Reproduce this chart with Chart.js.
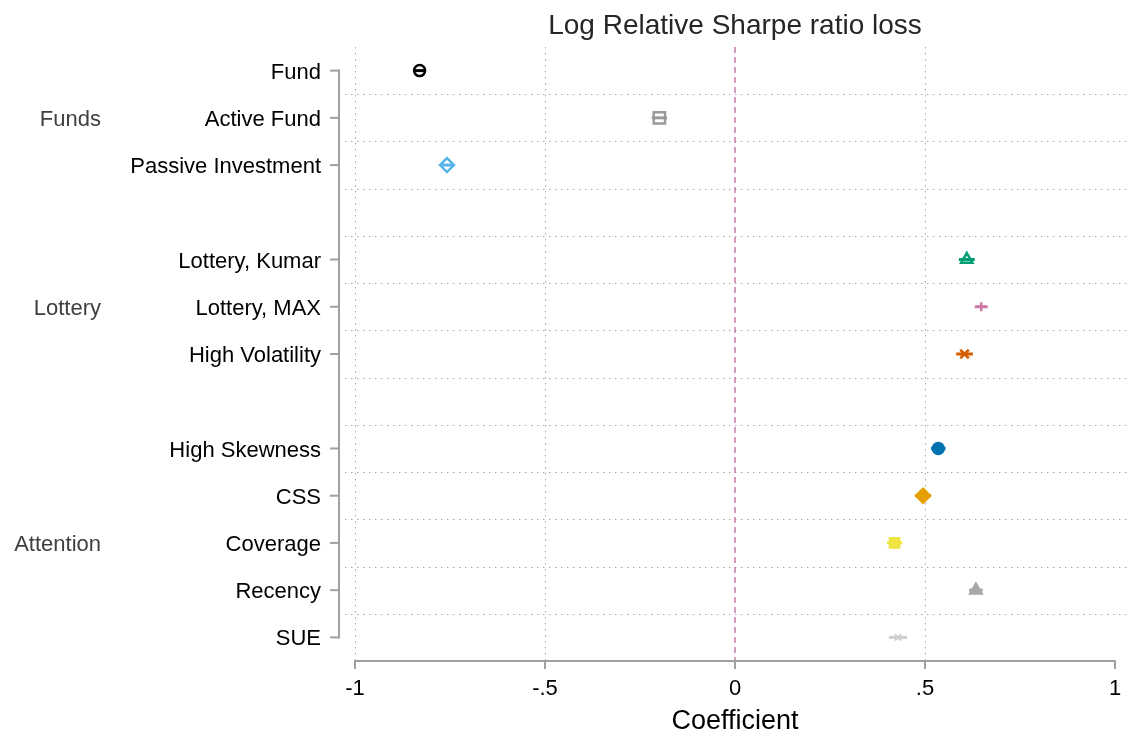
<!DOCTYPE html>
<html>
<head>
<meta charset="utf-8">
<script src="https://cdn.jsdelivr.net/npm/chart.js@4.4.1/dist/chart.umd.min.js"></script>
<style>
  html, body { margin: 0; padding: 0; background: #fff; }
  #wrap { width: 1130px; height: 738px; }
</style>
</head>
<body>
<div id="wrap"><canvas id="myChart" width="1130" height="738"></canvas></div>
<script>
// coefficient plot data
const rowLabels = ["Fund", "Active Fund", "Passive Investment", "", "Lottery, Kumar", "Lottery, MAX",
  "High Volatility", "", "High Skewness", "CSS", "Coverage", "Recency", "SUE"];
const rowPos = [0, 1, 2, 4, 5, 6, 8, 9, 10, 11, 12];
const coefs = [-0.830, -0.199, -0.758, 0.610, 0.648, 0.604, 0.535, 0.495, 0.420, 0.634, 0.429];
const ciLow = [-0.846, -0.219, -0.776, 0.589, 0.631, 0.582, 0.516, 0.474, 0.400, 0.616, 0.405];
const ciHigh = [-0.814, -0.179, -0.740, 0.631, 0.665, 0.626, 0.554, 0.516, 0.440, 0.652, 0.453];
const groupNames = ["Funds", "Lottery", "Attention"];
const groupPos = [1, 5, 10];
const xTicks = [-1, -0.5, 0, 0.5, 1];
const xTickLabels = ["-1", "-.5", "0", ".5", "1"];
const xGrid = [-1, -0.5, 0.5];

const colors = ["#000000", "#9a9a9a", "#56b4e9", "#009e73", "#cc79a7", "#d55e00",
  "#0072b2", "#e69f00", "#f0e442", "#a8a8a8", "#cfcfcf"];
const styles = ["circle", "rect", "rectRot", "triangle", "cross", "crossRot",
  "circle", "rectRot", "rect", "triangle", "crossRot"];
const hollow = [true, true, true, true, false, false, false, false, false, false, false];
const sizes = [5.5, 8, 7, 6.5, 4.5, 6, 5.5, 7, 6.5, 6.5, 4.5];

const FONT = '"Liberation Sans", Arial, sans-serif';

const decor = {
  id: "decor",
  beforeDatasetsDraw(chart) {
    const ctx = chart.ctx;
    const xs = chart.scales.x, ys = chart.scales.y;
    const top = chart.chartArea.top, bottom = chart.chartArea.bottom;
    ctx.save();
    // horizontal dotted separators
    ctx.strokeStyle = "#a8a8a8";
    ctx.lineWidth = 1;
    ctx.setLineDash([1.5, 4.5]);
    for (let k = 0; k < 12; k++) {
      const y = Math.round(ys.getPixelForValue(k + 0.5)) + 0.5;
      ctx.beginPath(); ctx.moveTo(345, y); ctx.lineTo(1130, y); ctx.stroke();
    }
    // vertical dotted grid
    xGrid.forEach(v => {
      const x = Math.round(xs.getPixelForValue(v)) + 0.5;
      ctx.beginPath(); ctx.moveTo(x, top); ctx.lineTo(x, bottom); ctx.stroke();
    });
    // zero line
    ctx.strokeStyle = "#cc79a7";
    ctx.lineWidth = 1.5;
    ctx.setLineDash([6, 4]);
    const x0 = xs.getPixelForValue(0);
    ctx.beginPath(); ctx.moveTo(x0, top); ctx.lineTo(x0, bottom); ctx.stroke();
    ctx.setLineDash([]);

    // confidence intervals
    ctx.lineWidth = 3;
    coefs.forEach((c, i) => {
      const y = ys.getPixelForValue(rowPos[i]);
      ctx.strokeStyle = colors[i];
      ctx.beginPath();
      ctx.moveTo(xs.getPixelForValue(ciLow[i]), y);
      ctx.lineTo(xs.getPixelForValue(ciHigh[i]), y);
      ctx.stroke();
    });

    // y axis
    ctx.strokeStyle = "#a0a0a0";
    ctx.lineWidth = 2;
    const yTop = ys.getPixelForValue(0), yBot = ys.getPixelForValue(12);
    ctx.beginPath(); ctx.moveTo(339, yTop - 1); ctx.lineTo(339, yBot + 1); ctx.stroke();
    ctx.fillStyle = "#000";
    ctx.font = "22px " + FONT;
    ctx.textAlign = "right";
    ctx.textBaseline = "middle";
    rowLabels.forEach((lab, k) => {
      if (!lab) return;
      const y = ys.getPixelForValue(k);
      ctx.beginPath(); ctx.moveTo(330, y); ctx.lineTo(339, y); ctx.stroke();
      ctx.fillText(lab, 321, y + 2);
    });
    // group labels
    ctx.fillStyle = "#404040";
    groupNames.forEach((g, i) => {
      ctx.fillText(g, 101, ys.getPixelForValue(groupPos[i]) + 2);
    });

    // x axis
    const xl = xs.getPixelForValue(-1), xr = xs.getPixelForValue(1);
    const ya = bottom;
    ctx.beginPath(); ctx.moveTo(xl - 1, ya); ctx.lineTo(xr + 1, ya); ctx.stroke();
    ctx.fillStyle = "#000";
    ctx.textAlign = "center";
    ctx.textBaseline = "middle";
    xTicks.forEach((v, i) => {
      const x = xs.getPixelForValue(v);
      ctx.beginPath(); ctx.moveTo(x, ya); ctx.lineTo(x, ya + 8); ctx.stroke();
      ctx.fillText(xTickLabels[i], x, 689);
    });
    ctx.font = "27px " + FONT;
    ctx.fillText("Coefficient", (xl + xr) / 2, 722);
    ctx.font = "28px " + FONT;
    ctx.fillStyle = "#262626";
    ctx.fillText("Log Relative Sharpe ratio loss", (xl + xr) / 2, 26);
    ctx.restore();
  }
};

const pts = coefs.map((c, i) => ({ x: c, y: rowPos[i] }));

const ctx = document.getElementById("myChart").getContext("2d");
const myChart = new Chart(ctx, {
  type: "scatter",
  data: {
    datasets: [{
      data: pts,
      pointStyle: styles,
      pointRadius: sizes,
      pointBorderWidth: styles.map((s, i) => (i === 10 ? 2 : 2.5)),
      borderColor: colors,
      backgroundColor: colors.map((c, i) => (hollow[i] ? "rgba(0,0,0,0)" : c)),
      pointBackgroundColor: colors.map((c, i) => (hollow[i] ? "rgba(0,0,0,0)" : c)),
      pointBorderColor: colors
    }]
  },
  options: {
    responsive: false,
    animation: false,
    layout: { padding: { left: 355, right: 15, top: 47, bottom: 77 } },
    plugins: { legend: { display: false }, tooltip: { enabled: false }, title: { display: false } },
    scales: {
      x: { type: "linear", min: -1, max: 1, display: false },
      y: { type: "linear", min: -0.5, max: 12.5, reverse: true, display: false }
    }
  },
  plugins: [decor]
});
</script>
</body>
</html>
